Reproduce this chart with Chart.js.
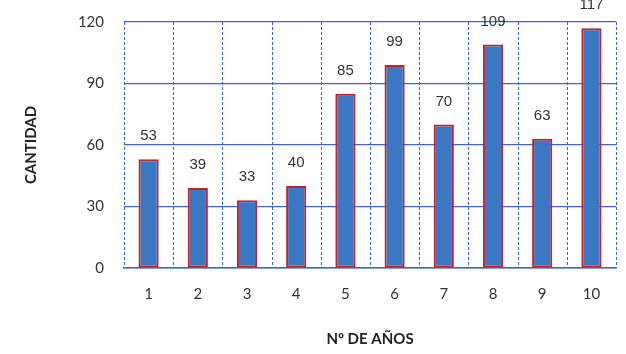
<!DOCTYPE html>
<html><head><meta charset="utf-8">
<script src="https://cdn.jsdelivr.net/npm/chart.js@4/dist/chart.umd.min.js"></script>
<style>html,body{margin:0;padding:0;background:#fff}#w{width:626px;height:354px}</style>
</head><body><div id="w"><canvas id="c"></canvas></div>
<script>
const categories = ['1','2','3','4','5','6','7','8','9','10'];
const values = [53,39,33,40,85,99,70,109,63,117];
const yTicks = [0,30,60,90,120];
const xTitle = 'Nº DE AÑOS';
const yTitle = 'CANTIDAD';

const labelPlugin = {
  id:'vals',
  afterDatasetsDraw(chart){
    const ctx = chart.ctx;
    const meta = chart.getDatasetMeta(0);
    ctx.save();
    ctx.font = '15px "Liberation Sans", Arial, sans-serif';
    ctx.fillStyle = '#333';
    ctx.textAlign = 'center';
    ctx.textBaseline = 'middle';
    meta.data.forEach((b,i)=>{ ctx.fillText(String(values[i]), b.x, b.y - 23); });
    ctx.restore();
  }
};

new Chart(document.getElementById('c'), {
  type:'bar',
  data:{labels:categories, datasets:[{data:values, backgroundColor:'#3b78c4', borderColor:'#c8202a', borderWidth:2, borderSkipped:false, barPercentage:0.41, categoryPercentage:1}]},
  options:{
    responsive:true, maintainAspectRatio:false, animation:false,
    layout:{padding:{top:22,right:10,left:0,bottom:0}},
    plugins:{legend:{display:false}, tooltip:{enabled:false}},
    scales:{
      x:{
        grid:{display:false, offset:true, drawTicks:false},
        border:{display:true, color:'#3f63d4', width:1.5},
        ticks:{padding:17, color:'#333', font:{family:'Lato, "Open Sans", sans-serif', size:15}},
        title:{display:true, text:xTitle, color:'#222', padding:{top:0,bottom:6}, font:{family:'Lato, "Open Sans", sans-serif', size:15, weight:'bold'}},
        afterFit(s){ s.height = 86; s.paddingLeft = 0; s.paddingRight = 0; }
      },
      y:{
        min:0, max:120,
        afterBuildTicks(s){ s.ticks = yTicks.map(v=>({value:v})); },
        grid:{color:'#3f63d4', lineWidth:1.2, drawTicks:false},
        border:{display:false},
        ticks:{padding:20, color:'#333', font:{family:'Lato, "Open Sans", sans-serif', size:15}},
        title:{display:true, text:yTitle, color:'#222', padding:{top:22,bottom:0}, font:{family:'Lato, "Open Sans", sans-serif', size:15, weight:'bold'}},
        afterFit(s){ s.width = 124; s.paddingTop = 0; s.paddingBottom = 0; }
      }
    }
  },
  plugins:[labelPlugin, {
    id:'dashX',
    beforeDatasetsDraw(chart){
      const ctx = chart.ctx, a = chart.chartArea, x = chart.scales.x;
      ctx.save();
      ctx.strokeStyle = '#3f63d4'; ctx.lineWidth = 1; ctx.setLineDash([3,2]);
      for(let i=0;i<=categories.length;i++){
        const px = Math.round(x.getPixelForValue(i-0.5))+0.5;
        ctx.beginPath(); ctx.moveTo(px,a.top); ctx.lineTo(px,a.bottom); ctx.stroke();
      }
      ctx.restore();
    }
  }]
});
</script></body></html>
